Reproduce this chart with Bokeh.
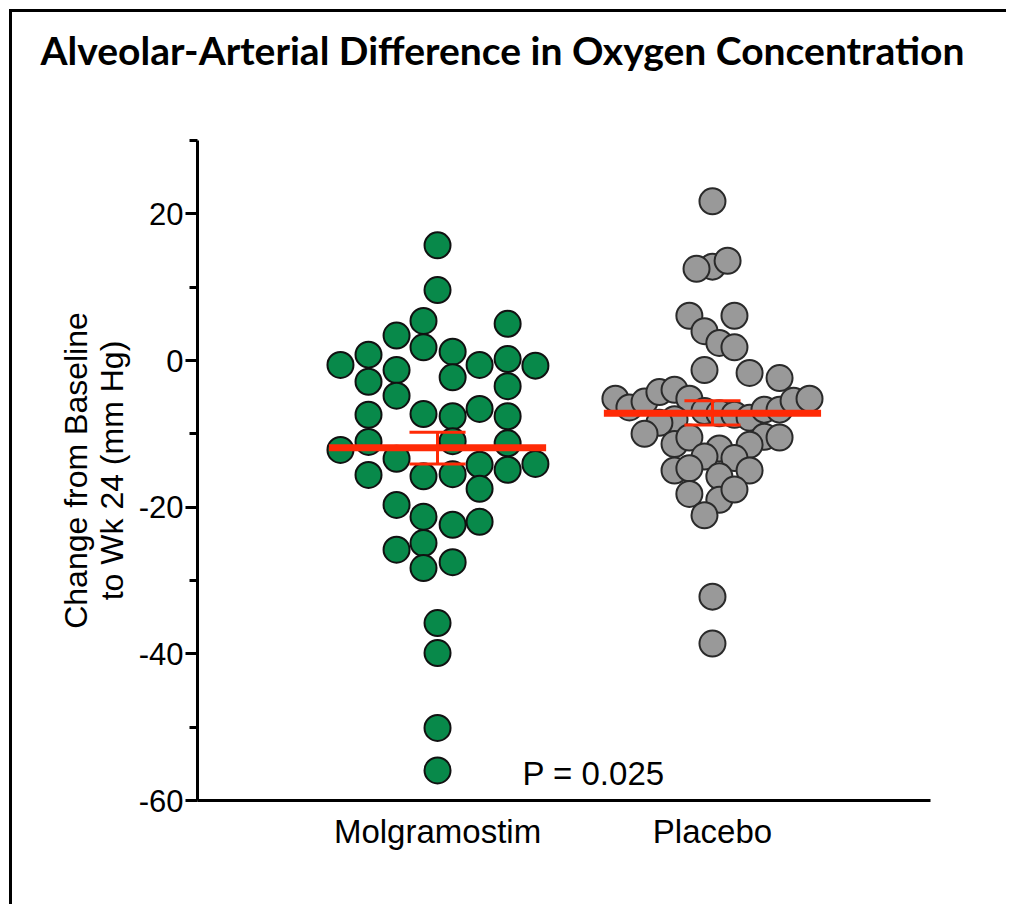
from bokeh.plotting import figure
from bokeh.models import FixedTicker, Label, ColumnDataSource, Title
from bokeh.embed import file_html
from bokeh.resources import INLINE

# ---------------- data ----------------
categories = ["Molgramostim", "Placebo"]
cat_pos = [1, 2]

mol_values = [15.7, 9.6, 5.4, 3.4, 5.0, 0.8, 1.8, 1.2, -0.6, -1.3, -0.6, 0.2, -0.7,
              -2.9, -2.3, -4.8, -3.5, -7.4, -7.3, -7.6, -6.6, -7.6, -12.2, -11.1,
              -11.0, -11.3, -13.4, -14.2, -14.9, -14.1, -15.6, -15.8, -15.5, -17.5,
              -19.7, -21.3, -22.4, -22.0, -25.8, -24.9, -28.3, -27.5, -35.8, -39.9,
              -50.1, -55.9]
mol_jitter = [0.0, 0.0, -0.051, -0.149, 0.255, -0.251, -0.051, 0.055, -0.353, -0.149,
              0.153, 0.255, 0.356, -0.251, 0.055, -0.149, 0.255, -0.251, -0.051, 0.055,
              0.153, 0.255, -0.353, -0.251, 0.055, 0.255, -0.149, 0.153, 0.255, 0.356,
              -0.251, -0.051, 0.055, 0.153, -0.149, -0.051, 0.055, 0.153, -0.149, -0.051,
              -0.051, 0.055, 0.0, 0.0, 0.0, 0.0]

pla_values = [21.7, 12.8, 12.5, 13.6, 6.1, 6.1, 4.0, 2.4, 1.8, -1.3, -1.7, -2.4,
              -5.2, -6.4, -5.6, -4.3, -4.0, -5.2, -6.9, -7.2, -7.4, -7.8, -6.7, -6.7,
              -5.5, -5.2, -8.0, -8.5, -10.0, -11.4, -10.5, -10.4, -10.5, -11.5, -12.0,
              -13.1, -13.3, -15.0, -14.7, -15.8, -15.0, -18.2, -19.0, -17.6, -21.1,
              -32.2, -38.6]
pla_jitter = [0.0, 0.0, -0.058, 0.055, -0.084, 0.080, -0.029, 0.025, 0.080, -0.029,
              0.135, 0.244, -0.353, -0.302, -0.247, -0.193, -0.138, -0.084, -0.029, 0.025,
              0.080, 0.135, 0.189, 0.244, 0.295, 0.353, -0.138, -0.193, -0.247, -0.138,
              -0.084, 0.189, 0.244, 0.135, 0.025, -0.029, 0.080, -0.138, -0.084, 0.025,
              0.135, -0.084, 0.025, 0.080, -0.029, 0.0, 0.0]

means = [-11.9, -7.2]
err_upper = [-9.8, -5.5]
err_lower = [-14.1, -8.8]

y_major_ticks = [-60, -40, -20, 0, 20]
y_minor_ticks = [-50, -30, -10, 10, 30]
y_tick_labels = ["-60", "-40", "-20", "0", "20"]

title_text = "Alveolar-Arterial Difference in Oxygen Concentration"
y_label = "Change from Baseline\nto Wk 24 (mm Hg)"
p_text = "P = 0.025"

# ---------------- figure ----------------
p = figure(width=997, height=895, output_backend="svg", toolbar_location=None,
           x_range=(0.127, 2.793), y_range=(-60, 30),
           min_border_left=185, min_border_right=79, min_border_top=128,
           min_border_bottom=107)
p.styles = {"border-left": "3px solid #000", "border-top": "3px solid #000",
            "margin-left": "9px", "margin-top": "9px"}
p.outline_line_color = None
p.grid.visible = False
p.background_fill_color = "white"
p.border_fill_color = "white"

# spacer between frame and title (keeps the title near the top)
spacer = Title(text=" ", text_font_size="10px", standoff=50)
p.add_layout(spacer, "above")

# title
p.title.text = title_text
p.title.align = "left"
p.title.offset = -157
p.title.standoff = 10
p.title.text_font = "Lato"
p.title.text_font_style = "bold"
p.title.text_font_size = "39px"
p.title.text_color = "black"

# y axis
ya = p.yaxis[0]
ya.ticker = FixedTicker(ticks=y_major_ticks, minor_ticks=y_minor_ticks)
ya.major_label_overrides = {t: s for t, s in zip(y_major_ticks, y_tick_labels)}
ya.axis_line_width = 3
ya.major_tick_line_width = 3
ya.minor_tick_line_width = 3
ya.major_tick_out = 12
ya.major_tick_in = 0
ya.minor_tick_out = 8
ya.minor_tick_in = 0
ya.major_label_text_font = "Liberation Sans"
ya.major_label_text_font_size = "31px"
ya.major_label_text_color = "black"
ya.major_label_standoff = 2
ya.axis_label = y_label
ya.axis_label_text_font = "Liberation Sans"
ya.axis_label_text_font_size = "32px"
ya.axis_label_text_font_style = "normal"
ya.axis_label_text_color = "black"
ya.axis_label_text_line_height = 1.0
ya.axis_label_standoff = 6

# x axis
xa = p.xaxis[0]
xa.ticker = FixedTicker(ticks=cat_pos)
xa.major_label_overrides = {pos: name for pos, name in zip(cat_pos, categories)}
xa.axis_line_width = 3
xa.major_tick_out = 0
xa.major_tick_in = 0
xa.minor_tick_out = 0
xa.minor_tick_in = 0
xa.major_label_text_font = "Liberation Sans"
xa.major_label_text_font_size = "33px"
xa.major_label_text_color = "black"
xa.major_label_standoff = 12

# points
mol_src = ColumnDataSource(dict(x=[cat_pos[0] + j for j in mol_jitter], y=mol_values))
pla_src = ColumnDataSource(dict(x=[cat_pos[1] + j for j in pla_jitter], y=pla_values))
p.scatter("x", "y", source=mol_src, size=26, fill_color="#08894a",
          line_color="#111111", line_width=2)
p.scatter("x", "y", source=pla_src, size=26, fill_color="#999999",
          line_color="#2a2a2a", line_width=2)

# mean lines and error bars
half_mean = 0.395
half_cap = 0.102
red = "#ff2a06"
p.segment(x0=[c - half_mean for c in cat_pos], x1=[c + half_mean for c in cat_pos],
          y0=means, y1=means, line_color=red, line_width=7)
p.segment(x0=cat_pos, x1=cat_pos, y0=err_lower, y1=err_upper,
          line_color=red, line_width=3)
p.segment(x0=[c - half_cap for c in cat_pos], x1=[c + half_cap for c in cat_pos],
          y0=err_upper, y1=err_upper, line_color=red, line_width=3)
p.segment(x0=[c - half_cap for c in cat_pos], x1=[c + half_cap for c in cat_pos],
          y0=err_lower, y1=err_lower, line_color=red, line_width=3)

# p-value text
p.add_layout(Label(x=1.309, y=-56.3, text=p_text, text_font="Liberation Sans",
                   text_font_size="33px", text_baseline="middle", text_align="left",
                   text_color="black"))

open("out.html", "w").write(file_html(p, INLINE))
